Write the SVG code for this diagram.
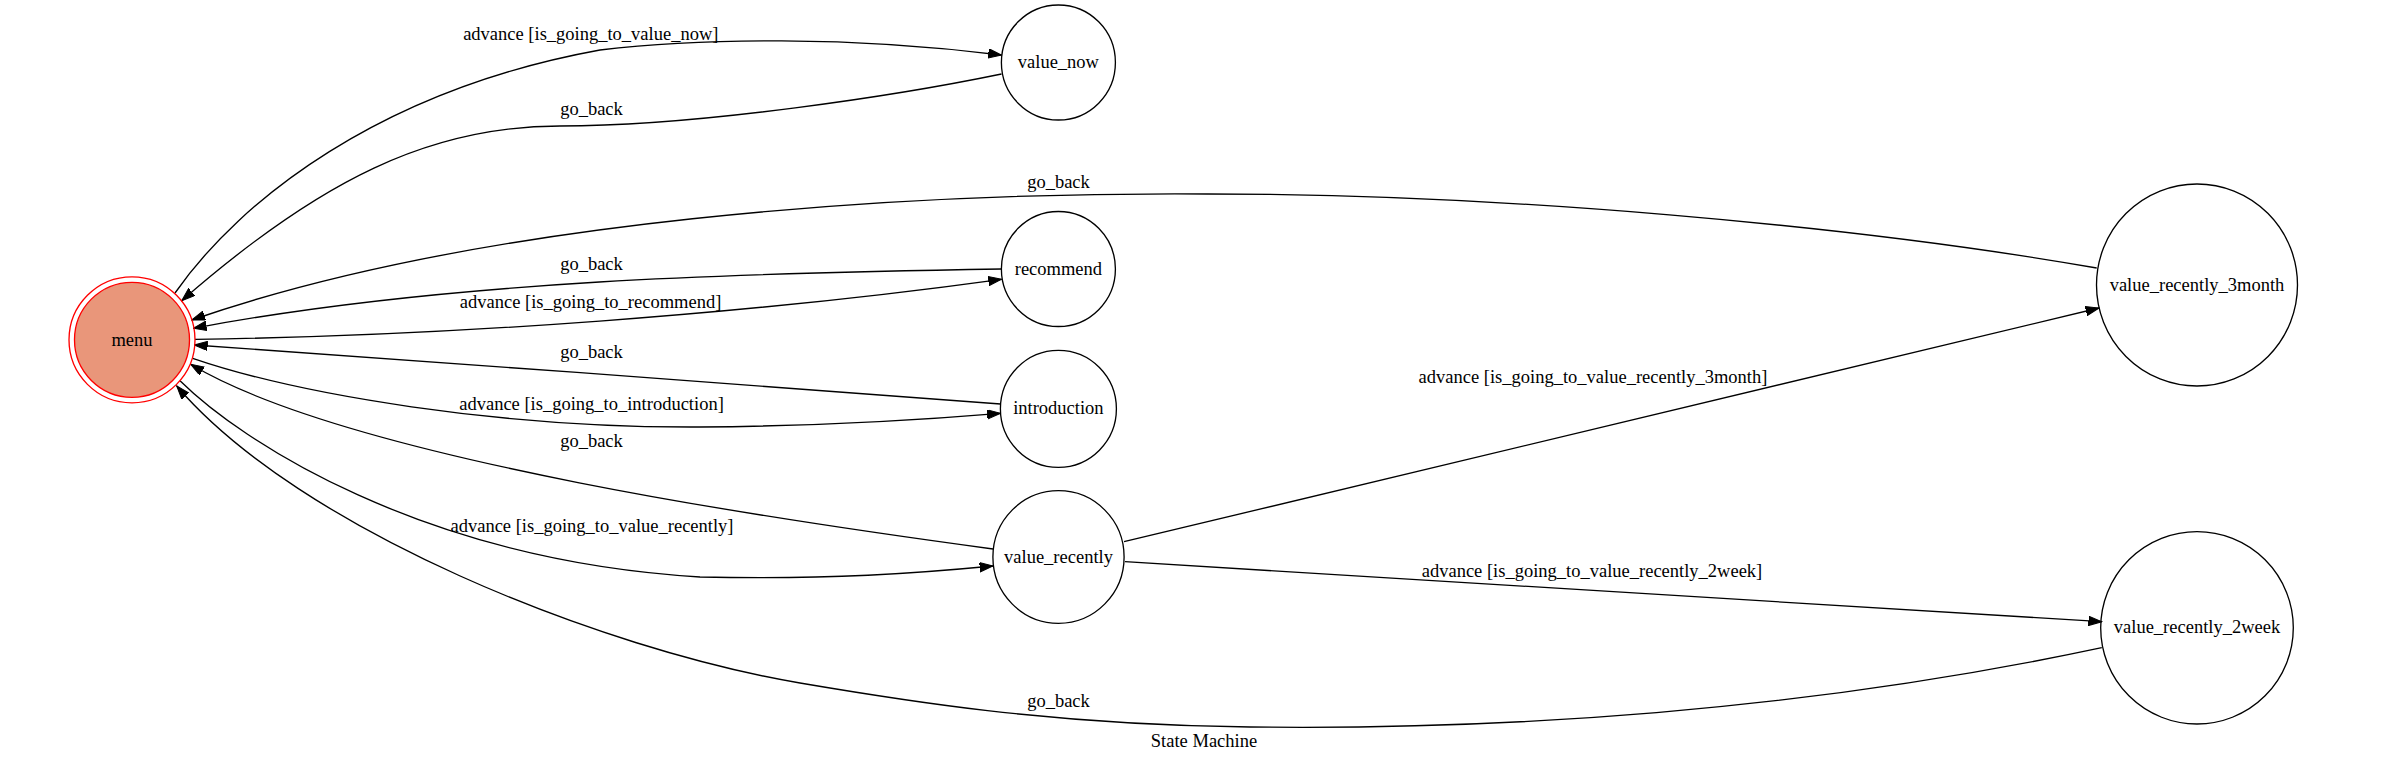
<svg xmlns="http://www.w3.org/2000/svg" width="2407" height="763" viewBox="0 0 2407 763">
<style>
text { font-family: "Liberation Serif", "Times New Roman", serif; font-size: 18.5px; fill: #000; text-anchor: middle; }
.node ellipse { fill: none; stroke: #000; stroke-width: 1.33; }
.edge { fill: none; stroke: #000; stroke-width: 1.33; }
.arr { marker-end: url(#ah); }
</style>
<defs>
<marker id="ah" markerUnits="userSpaceOnUse" markerWidth="14" markerHeight="10" refX="13.3" refY="4.7" orient="auto">
<path d="M0,0 L13.3,4.7 L0,9.4 Z" fill="#000" stroke="#000" stroke-width="1"/>
</marker>
</defs>
<rect width="2407" height="763" fill="#fff"/>
<g id="connectors">
<path class="edge arr" d="M175,293 C240,200 380,90 600,50 C700,38 850,36 1001.5,55"/>
<path class="edge arr" d="M1001.5,74 C900,95 700,126 560,126 C430,126 320,180 181.7,300.7"/>
<path class="edge arr" d="M2096.7,268 C1850,225 1500,194 1208,194 C900,192 480,220 191.7,320"/>
<path class="edge arr" d="M1001.5,269 C750,273 450,280 193.3,328.3"/>
<path class="edge arr" d="M195,339.3 C450,336 750,314 1001.5,279.3"/>
<path class="edge arr" d="M1000.5,404 C750,386 450,362 194.3,345"/>
<path class="edge arr" d="M192.7,358.3 C300,395 500,428 700,427 C820,426 920,420 1000.5,413.3"/>
<path class="edge arr" d="M993,549 C800,523 350,460 190.7,364.3"/>
<path class="edge arr" d="M180,380.7 C240,440 420,560 700,577 C830,580 920,573 993,566"/>
<path class="edge arr" d="M2101.8,647.7 C1800,712 1500,730 1250,727 C1050,725 900,700 800,683 C600,649 300,530 176.7,386"/>
<path class="edge arr" d="M1124,541.7 L2099,308"/>
<path class="edge arr" d="M1125,561.7 L2101.8,621.7"/>
<text x="590.8" y="40">advance [is_going_to_value_now]</text>
<text x="591.5" y="115">go_back</text>
<text x="1058.5" y="188">go_back</text>
<text x="591.5" y="270">go_back</text>
<text x="590.6" y="308">advance [is_going_to_recommend]</text>
<text x="591.5" y="358">go_back</text>
<text x="591.5" y="410">advance [is_going_to_introduction]</text>
<text x="591.5" y="447">go_back</text>
<text x="592" y="531.5">advance [is_going_to_value_recently]</text>
<text x="1058.5" y="707">go_back</text>
<text x="1593" y="383">advance [is_going_to_value_recently_3month]</text>
<text x="1592" y="577">advance [is_going_to_value_recently_2week]</text>
</g>
<g id="menu">
<ellipse cx="132" cy="339.8" rx="63" ry="63" fill="none" stroke="#ff0000" stroke-width="1.33"/>
<ellipse cx="132" cy="339.8" rx="57.5" ry="57.5" fill="#e9967a" stroke="#ff0000" stroke-width="1.33"/>
<text x="132" y="345.5">menu</text>
</g>
<g id="value_now" class="node">
<ellipse cx="1058.4" cy="62.5" rx="57" ry="57.5"/>
<text x="1058.4" y="68">value_now</text>
</g>
<g id="recommend" class="node">
<ellipse cx="1058.4" cy="269" rx="57" ry="57.5"/>
<text x="1058.4" y="274.5">recommend</text>
</g>
<g id="introduction" class="node">
<ellipse cx="1058.4" cy="408.8" rx="58" ry="58.5"/>
<text x="1058.4" y="414.3">introduction</text>
</g>
<g id="value_recently" class="node">
<ellipse cx="1058.5" cy="557" rx="65.6" ry="66.3"/>
<text x="1058.5" y="562.5">value_recently</text>
</g>
<g id="value_recently_3month" class="node">
<ellipse cx="2197" cy="285" rx="100.5" ry="101"/>
<text x="2197" y="290.5">value_recently_3month</text>
</g>
<g id="value_recently_2week" class="node">
<ellipse cx="2197" cy="627.8" rx="96.3" ry="96.2"/>
<text x="2197" y="633.3">value_recently_2week</text>
</g>
<text x="1204" y="747">State Machine</text>
</svg>
